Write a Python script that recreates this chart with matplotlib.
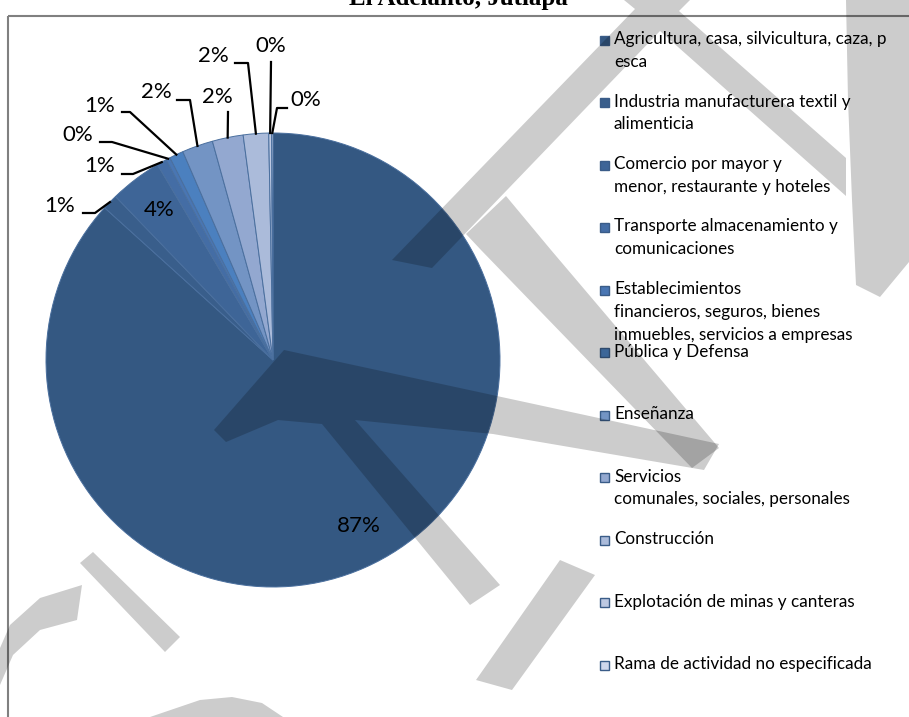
import numpy as np
import matplotlib.pyplot as plt
from matplotlib.patches import Polygon, Rectangle

# data (percent of occupied population by branch)
categories = ['Agricultura', 'Industria', 'Comercio', 'Transporte', 'Establecimientos',
              'Pública', 'Enseñanza', 'Servicios', 'Construcción', 'Explotación', 'Rama']
values = [86.7, 1.1, 3.7, 0.7, 0.3, 1.0, 2.2, 2.2, 1.8, 0.2, 0.1]
legend_labels = [
    'Agricultura, casa, silvicultura, caza, p\nesca',
    'Industria manufacturera textil y\nalimenticia',
    'Comercio por mayor y\nmenor, restaurante y hoteles',
    'Transporte almacenamiento y\ncomunicaciones',
    'Establecimientos\nfinancieros, seguros, bienes\ninmuebles, servicios a empresas',
    'Pública y Defensa',
    'Enseñanza',
    'Servicios\ncomunales, sociales, personales',
    'Construcción',
    'Explotación de minas y canteras',
    'Rama de actividad no especificada',
]
colors = ['#345882', '#395E8B', '#3E6597', '#446DA5', '#4976B3', '#4B80BF',
          '#7394C4', '#93A8D0', '#ABBBDA', '#BDC9E2', '#CFD7EC']

# label placement for the small slices: text x, y, elbow x, y, end x, y (pixels)
outside_labels = {
    1: (60, 206, 95, 213, 83, 213),
    3: (100, 166, 133, 174, 122, 174),
    4: (78, 135, 112, 142, 100, 142),
    5: (100, 106, 130, 112, 122, 112),
    6: (156, 92, 190, 100, 177, 100),
    7: (217, 97, 228, 112, 228, 112),
    8: (213, 56, 248, 63, 235, 63),
    9: (271, 46, 271, 62, 271, 62),
    10: (306, 100, 277, 108, 287, 108),
}

plt.rcParams['font.family'] = ['Lato', 'DejaVu Sans']

fig = plt.figure(figsize=(9.09, 7.17), dpi=100)
ax = fig.add_axes([0, 0, 1, 1])

cx, cy, rad = 273, 360, 227
wedges, _ = ax.pie(values, colors=colors, startangle=-90, counterclock=True,
                   center=(cx, cy), radius=rad, frame=True,
                   wedgeprops=dict(edgecolor='#4A6F9E', linewidth=0.7))
ax.set_xlim(0, 909)
ax.set_ylim(717, 0)
ax.set_aspect('equal')
ax.axis('off')

for i, w in enumerate(wedges):
    mid = np.deg2rad((w.theta1 + w.theta2) / 2)
    pct = '%d%%' % round(values[i])
    if i in outside_labels:
        tx, ty, ex, ey, hx, hy = outside_labels[i]
        px, py = cx + rad * np.cos(mid), cy + rad * np.sin(mid)
        ax.plot([px, ex, hx], [py, ey, hy], color='black', lw=1.6, zorder=4)
        ax.text(tx, ty, pct, ha='center', va='center', fontsize=16, zorder=5)
    else:
        d = 0.8 if i == 0 else 0.83
        ax.text(cx + d * rad * np.cos(mid) + (12 if i == 0 else 0),
                cy + d * rad * np.sin(mid), pct,
                ha='center', va='center', fontsize=16, zorder=5)

# legend drawn by hand to keep the wrapped layout of the original
for i, lab in enumerate(legend_labels):
    y0 = 40 + 62.5 * i
    ax.add_patch(Rectangle((600, y0 - 4.5), 9, 9, facecolor=colors[i],
                           edgecolor='#3A5C88', lw=1.0, zorder=5))
    ax.text(614, y0 - 9, lab, ha='left', va='top', fontsize=12.3,
            linespacing=1.52, zorder=5)

# chart frame and (clipped) title
ax.add_patch(Rectangle((8, 16), 1000, 800, fill=False, edgecolor='#808080', lw=1.5, zorder=6))
ax.text(458, 5, 'El Adelanto, Jutiapa', ha='center', va='baseline', fontsize=18,
        fontweight='bold', family='Liberation Serif', zorder=6)

# draft watermark over the page (rough)
watermark = [
    # big inverted V through the legend
    [(624, 0), (690, 0), (679, 11), (846, 158), (846, 196), (660, 31), (432, 268),
     (392, 260), (635, 9)],
    # right edge stroke
    [(846, 0), (909, 0), (909, 262), (880, 297), (856, 285), (852, 200), (848, 100)],
    [(466, 234), (506, 196), (551, 250), (719, 448), (692, 468), (481, 250)],
    [(284, 350), (719, 444), (704, 470), (493, 434), (355, 420), (500, 585),
     (470, 605), (322, 424), (278, 420), (226, 442), (214, 430)],
    [(560, 560), (595, 575), (512, 690), (476, 680)],
    [(80, 563), (93, 552), (180, 637), (165, 652)],
    [(82, 585), (40, 598), (10, 625), (0, 648), (0, 685), (13, 655), (40, 630), (77, 620)],
    [(150, 717), (200, 700), (232, 697), (262, 703), (283, 717)],
]
for poly in watermark:
    ax.add_patch(Polygon(poly, closed=True, facecolor='black', alpha=0.2,
                         edgecolor='none', zorder=7))

fig.savefig('out.png', dpi=100)
